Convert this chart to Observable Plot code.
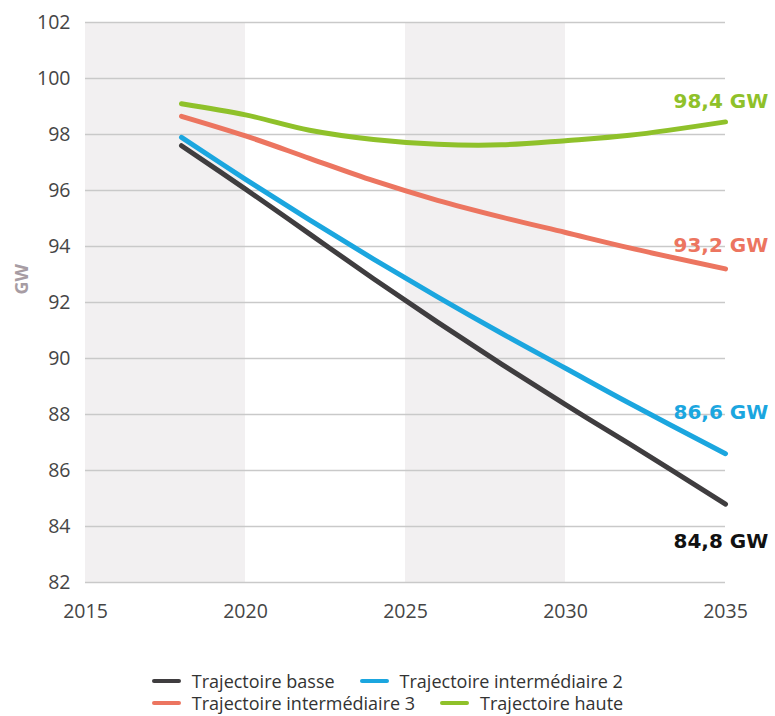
<!DOCTYPE html>
<html>
<head>
<meta charset="utf-8">
<script src="https://cdn.jsdelivr.net/npm/d3@7"></script>
<script src="https://cdn.jsdelivr.net/npm/@observablehq/plot@0.6"></script>
<style>
  html, body { margin: 0; padding: 0; background: #fff; }
  body { width: 775px; height: 716px; overflow: hidden; font-family: "Open Sans", sans-serif; }
  #legend { margin-top: 30px; display: flex; justify-content: center; }
  #legend .box { display: inline-block; }
  #legend .row { display: flex; gap: 25px; height: 22px; align-items: center; }
  #legend .item { display: flex; align-items: center; gap: 11px; font-size: 18px; color: #333; }
  #legend .sw { width: 29px; height: 4px; border-radius: 2px; }
</style>
</head>
<body>
<div id="chart"></div>
<div id="legend"></div>
<script>
const years = [2018, 2020, 2022, 2024, 2026, 2028, 2030, 2032, 2035];
const basse = [97.6, 96.05, 94.45, 92.85, 91.3, 89.8, 88.35, 86.95, 84.8];
const inter2 = [97.9, 96.4, 94.95, 93.55, 92.2, 90.9, 89.65, 88.4, 86.6];
const inter3 = [98.65, 97.95, 97.15, 96.35, 95.65, 95.05, 94.5, 93.95, 93.2];
const haute = [99.1, 98.7, 98.15, 97.82, 97.65, 97.63, 97.78, 97.97, 98.45];

const seriesNames = ["Trajectoire basse", "Trajectoire intermédiaire 2", "Trajectoire intermédiaire 3", "Trajectoire haute"];
const seriesValues = [basse, inter2, inter3, haute];
const seriesColors = ["#3f3d3f", "#1ba6df", "#ec7560", "#8fc12a"];
const labelColors = ["#111111", "#1ba6df", "#ec7560", "#8fc12a"];
const endLabels = ["84,8 GW", "86,6 GW", "93,2 GW", "98,4 GW"];

const yTicks = [82, 84, 86, 88, 90, 92, 94, 96, 98, 100, 102];
const xTicks = [2015, 2020, 2025, 2030, 2035];
const bandStarts = [2015, 2025];
const bandEnds = [2020, 2030];
const yLabel = "GW";

const rows = [];
seriesNames.forEach((name, i) => {
  years.forEach((yr, j) => rows.push({series: name, year: yr, value: seriesValues[i][j]}));
});
const bands = bandStarts.map((s, i) => ({x1: s, x2: bandEnds[i]}));
const ends = seriesNames.map((name, i) => ({series: name, year: years[years.length - 1], value: seriesValues[i][years.length - 1], label: endLabels[i], color: labelColors[i]}));
const labelDy = [37, -41, -23, -20];

const chart = Plot.plot({
  width: 775,
  height: 640,
  marginLeft: 85,
  marginRight: 50,
  marginTop: 22,
  marginBottom: 58,
  style: {fontFamily: "Open Sans, sans-serif", background: "#fff"},
  x: {domain: [2015, 2035], ticks: xTicks, tickFormat: d => String(d)},
  y: {domain: [82, 102], ticks: yTicks},
  color: {domain: seriesNames, range: seriesColors},
  marks: [
    Plot.rect(bands, {x1: "x1", x2: "x2", y1: 82, y2: 102, fill: "#f2f0f1"}),
    Plot.ruleY(yTicks, {x1: 2015, x2: 2035, stroke: "#c9c9c9", strokeWidth: 1.5}),
    Plot.axisY({ticks: yTicks, tickSize: 0, tickPadding: 15, label: null, fontSize: 19.5, color: "#454545"}),
    Plot.axisX({ticks: xTicks, tickSize: 0, tickPadding: 22, label: null, fontSize: 19.5, color: "#454545", tickFormat: d => String(d)}),
    Plot.text([yLabel], {frameAnchor: "left", rotate: -90, dx: -63, dy: -8, fontSize: 18, fontWeight: "bold", fill: "#a79ca3"}),
    Plot.line(rows, {x: "year", y: "value", z: "series", stroke: "series", strokeWidth: 5, curve: "catmull-rom", strokeLinecap: "round"}),
    ...ends.map((d, i) => Plot.text([d], {x: "year", y: "value", text: "label", fill: "color", textAnchor: "start", dx: -52, dy: labelDy[i], fontSize: 20, fontWeight: "bold", fontFamily: "DejaVu Sans, sans-serif"}))
  ]
});
document.getElementById("chart").appendChild(chart);

// Legend
const legend = document.getElementById("legend");
const box = document.createElement("div");
box.className = "box";
const order = [[0, 1], [2, 3]];
order.forEach(r => {
  const row = document.createElement("div");
  row.className = "row";
  r.forEach(i => {
    const it = document.createElement("div");
    it.className = "item";
    const sw = document.createElement("span");
    sw.className = "sw";
    sw.style.background = seriesColors[i];
    const tx = document.createElement("span");
    tx.textContent = seriesNames[i];
    it.appendChild(sw);
    it.appendChild(tx);
    row.appendChild(it);
  });
  box.appendChild(row);
});
legend.appendChild(box);
</script>
</body>
</html>
